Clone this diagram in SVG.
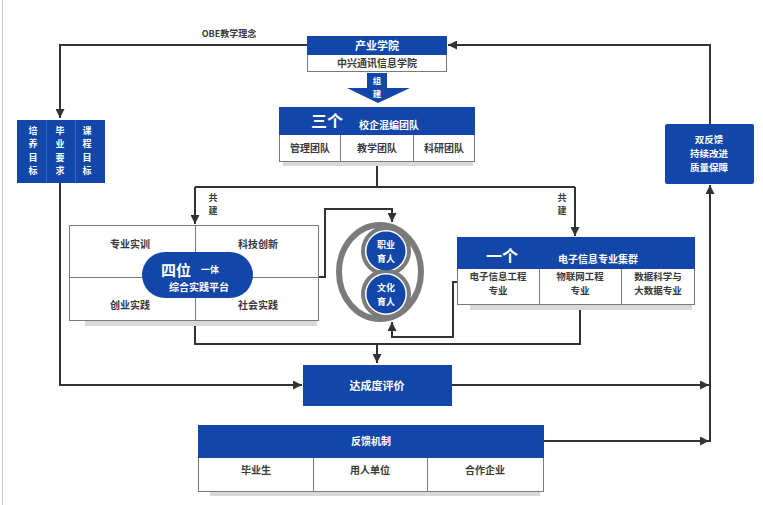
<svg xmlns="http://www.w3.org/2000/svg" width="763" height="505" viewBox="0 0 763 505">
<defs>
<style>
.t{font-family:"Noto Sans CJK SC","Liberation Sans",sans-serif;font-weight:700;text-anchor:middle}
.w{fill:#ffffff}
.d{fill:#3a3a3a}
.blue{fill:#1246a8}
.cell{fill:#ffffff;stroke:#7a7a7a;stroke-width:1}
.sh{fill:#d9d9d9}
.ln{fill:none;stroke:#333333;stroke-width:2}
</style>
<marker id="ah" viewBox="0 0 10 10" refX="10" refY="5" markerWidth="4.5" markerHeight="4.5" orient="auto" markerUnits="strokeWidth">
<path d="M0,0 L10,5 L0,10 z" fill="#333333"/>
</marker>
</defs>
<rect width="763" height="505" fill="#ffffff"/>
<line x1="2.5" y1="0" x2="2.5" y2="505" stroke="#c8c8c8" stroke-width="1"/>

<g id="connectors">
<polyline class="ln" points="307,45 60,45 60,118" marker-end="url(#ah)"/>
<polyline class="ln" points="710,124 710,45 448,45" marker-end="url(#ah)"/>
<polyline class="ln" points="60,183 60,385 302,385" marker-end="url(#ah)"/>
<line class="ln" x1="452" y1="385" x2="709" y2="385" marker-end="url(#ah)"/>
<line class="ln" x1="544" y1="441" x2="709" y2="441" marker-end="url(#ah)"/>
<line class="ln" x1="710" y1="442" x2="710" y2="185" marker-end="url(#ah)"/>
<polyline class="ln" points="377,162 377,187"/>
<polyline class="ln" points="195,187 575,187"/>
<polyline class="ln" points="195,187 195,224" marker-end="url(#ah)"/>
<polyline class="ln" points="575,187 575,236" marker-end="url(#ah)"/>
<polyline class="ln" points="319,277 325,277 325,209 392,209 392,222" marker-end="url(#ah)"/>
<polyline class="ln" points="457,282 453,282 453,337 392,337 392,322" marker-end="url(#ah)"/>
<polyline class="ln" points="195,321 195,344 580,344 580,305"/>
<polyline class="ln" points="377,344 377,363" marker-end="url(#ah)"/>
<text class="t d" x="229" y="37" font-size="9">OBE教学理念</text>
<text class="t d" x="213" y="201" font-size="9">共</text>
<text class="t d" x="213" y="214" font-size="9">建</text>
<text class="t d" x="562" y="201" font-size="9">共</text>
<text class="t d" x="562" y="214" font-size="9">建</text>
</g>

<g id="chanye">
<rect class="cell" x="307.5" y="36.5" width="139" height="35"/>
<rect class="blue" x="307" y="36" width="140" height="19"/>
<text class="t w" x="377" y="50" font-size="11">产业学院</text>
<text class="t d" x="377" y="67" font-size="10">中兴通讯信息学院</text>
</g>

<g id="zujian">
<path class="blue" d="M367,73 L387,73 L387,88 L410,88 L378,103 L347,88 L367,88 z"/>
<text class="t w" x="377" y="84" font-size="8.5">组</text>
<text class="t w" x="377" y="97" font-size="8.5">建</text>
</g>

<g id="sange">
<rect class="sh" x="283" y="161" width="190" height="5"/>
<rect class="cell" x="279.5" y="107.5" width="195" height="54"/>
<line x1="340.5" y1="135" x2="340.5" y2="162" stroke="#7a7a7a"/>
<line x1="413.5" y1="135" x2="413.5" y2="162" stroke="#7a7a7a"/>
<rect class="blue" x="279" y="107" width="196" height="28"/>
<text class="t w" x="327" y="127" font-size="16">三个</text>
<text class="t w" x="389" y="129" font-size="10">校企混编团队</text>
<text class="t d" x="310" y="152" font-size="10">管理团队</text>
<text class="t d" x="377" y="152" font-size="10">教学团队</text>
<text class="t d" x="444" y="152" font-size="10">科研团队</text>
</g>

<g id="mubiao">
<rect class="blue" x="17" y="120" width="88" height="63"/>
<line x1="46.5" y1="120" x2="46.5" y2="183" stroke="#2f64c4" stroke-width="1"/>
<line x1="75.5" y1="120" x2="75.5" y2="183" stroke="#2f64c4" stroke-width="1"/>
<g class="t w" font-size="9">
<text x="33" y="134">培</text><text x="33" y="147.4">养</text><text x="33" y="160.8">目</text><text x="33" y="174.2">标</text>
<text x="60" y="134">毕</text><text x="60" y="147.4">业</text><text x="60" y="160.8">要</text><text x="60" y="174.2">求</text>
<text x="87" y="134">课</text><text x="87" y="147.4">程</text><text x="87" y="160.8">目</text><text x="87" y="174.2">标</text>
</g>
</g>

<g id="shuangfankui">
<rect class="blue" x="665" y="124" width="89" height="60" rx="2"/>
<text class="t w" x="709" y="143" font-size="9.5">双反馈</text>
<text class="t w" x="709" y="157" font-size="9.5">持续改进</text>
<text class="t w" x="709" y="171" font-size="9.5">质量保障</text>
</g>

<g id="siwei">
<rect class="sh" x="85" y="320" width="232" height="6"/>
<rect class="cell" x="69.5" y="225.5" width="249" height="95"/>
<line x1="195.5" y1="225" x2="195.5" y2="321" stroke="#7a7a7a"/>
<line x1="69" y1="277.5" x2="319" y2="277.5" stroke="#7a7a7a"/>
<text class="t d" x="130" y="248" font-size="10">专业实训</text>
<text class="t d" x="258" y="248" font-size="10">科技创新</text>
<text class="t d" x="130" y="309" font-size="10">创业实践</text>
<text class="t d" x="258" y="309" font-size="10">社会实践</text>
<rect class="blue" x="142" y="252" width="111" height="46" rx="23"/>
<text class="t w" x="176" y="276" font-size="15">四位</text>
<text class="t w" x="210" y="273" font-size="9">一体</text>
<text class="t w" x="199" y="291" font-size="10">综合实践平台</text>
</g>

<g id="yuren">
<ellipse cx="380" cy="272" rx="41" ry="47" fill="#ffffff" stroke="#7b7b7b" stroke-width="6"/>
<circle cx="386" cy="251" r="23" fill="#ffffff" stroke="#7b7b7b" stroke-width="4"/>
<circle cx="386" cy="294" r="23" fill="#ffffff" stroke="#7b7b7b" stroke-width="4"/>
<circle class="blue" cx="386" cy="251" r="19.5"/>
<circle class="blue" cx="386" cy="294" r="19.5"/>
<text class="t w" x="386" y="248" font-size="9">职业</text>
<text class="t w" x="386" y="261.5" font-size="9">育人</text>
<text class="t w" x="386" y="291" font-size="9">文化</text>
<text class="t w" x="386" y="304.5" font-size="9">育人</text>
</g>

<g id="yige">
<rect class="sh" x="470" y="304" width="222" height="6"/>
<rect class="cell" x="457.5" y="237.5" width="237" height="67"/>
<line x1="539.5" y1="269" x2="539.5" y2="305" stroke="#7a7a7a"/>
<line x1="621.5" y1="269" x2="621.5" y2="305" stroke="#7a7a7a"/>
<rect class="blue" x="457" y="237" width="238" height="32"/>
<text class="t w" x="502" y="262" font-size="16">一个</text>
<text class="t w" x="598" y="263" font-size="10">电子信息专业集群</text>
<text class="t d" x="498" y="280" font-size="9.5">电子信息工程</text>
<text class="t d" x="498" y="294" font-size="9.5">专业</text>
<text class="t d" x="580" y="280" font-size="9.5">物联网工程</text>
<text class="t d" x="580" y="294" font-size="9.5">专业</text>
<text class="t d" x="658" y="280" font-size="9.5">数据科学与</text>
<text class="t d" x="658" y="294" font-size="9.5">大数据专业</text>
</g>

<g id="dacheng">
<rect class="blue" x="303" y="365" width="149" height="41"/>
<text class="t w" x="377" y="390" font-size="11">达成度评价</text>
</g>

<g id="fankui">
<rect class="sh" x="210" y="491" width="330" height="5"/>
<rect class="cell" x="198.5" y="425.5" width="345" height="66"/>
<line x1="313.5" y1="458" x2="313.5" y2="492" stroke="#7a7a7a"/>
<line x1="427.5" y1="458" x2="427.5" y2="492" stroke="#7a7a7a"/>
<rect class="blue" x="198" y="425" width="346" height="33"/>
<text class="t w" x="371" y="445" font-size="10">反馈机制</text>
<text class="t d" x="256" y="474" font-size="10">毕业生</text>
<text class="t d" x="370" y="474" font-size="10">用人单位</text>
<text class="t d" x="485" y="474" font-size="10">合作企业</text>
</g>
</svg>
